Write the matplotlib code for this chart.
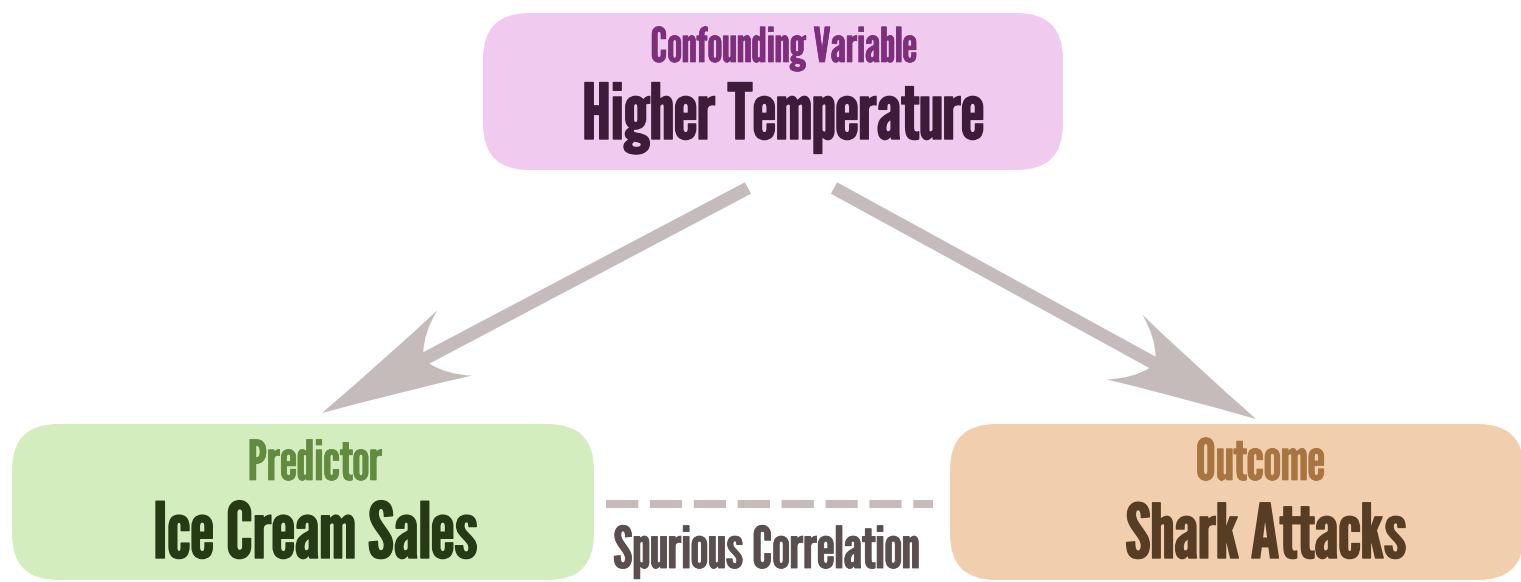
import numpy as np
import matplotlib
matplotlib.use('Agg')
from matplotlib import pyplot as plt
from matplotlib import patheffects as pe
from matplotlib.patches import FancyBboxPatch, PathPatch
from matplotlib.path import Path

# boxes: left, top, width, height (pixels)
box_xy = [(483, 13), (12, 424), (950, 424)]
box_size = [(580, 157), (582, 156), (574, 156)]
box_colors = ['#f1cbef', '#d3edbf', '#f0ceae']

# small label / big label of each box
small_labels = ['Confounding Variable', 'Predictor', 'Outcome']
small_colors = ['#7d2f7b', '#628b40', '#a87541']
big_labels = ['Higher Temperature', 'Ice Cream Sales', 'Shark Attacks']
big_colors = ['#3e1b38', '#263a16', '#573d24']

# text centre x, baseline y and width
small_x = [784, 315, 1260]
small_y = [62, 480, 480]
small_w = [267, 135, 130]
big_x = [783, 315, 1266]
big_y = [139, 558, 558]
big_w = [403, 326, 282]

# arrows from confounder to the two boxes
arrow_start = [(748, 188), (834, 188)]
arrow_tip = [(322, 413), (1256, 419)]
arrow_color = '#c5bbbb'

# spurious link
dash_x = [606, 933]
dash_y = 504
spur_label = 'Spurious Correlation'
spur_color = '#5b4e4e'

FONT = ['League Gothic', 'DejaVu Sans']

fig = plt.figure(figsize=(15.21, 5.82), dpi=100)
ax = fig.add_axes([0, 0, 1, 1])
ax.set_xlim(0, 1521)
ax.set_ylim(582, 0)
ax.axis('off')

for (x, y), (w, h), c in zip(box_xy, box_size, box_colors):
    ax.add_patch(FancyBboxPatch((x, y), w, h, boxstyle='round,pad=0,rounding_size=46',
                                fc=c, ec='none'))

fig.canvas.draw()
renderer = fig.canvas.get_renderer()


def fit_text(s, x, y, width, color, stroke):
    # light stroke to make the glyphs a little heavier
    t = ax.text(x, y, s, ha='center', va='baseline', fontsize=40, color=color, family=FONT)
    w = t.get_window_extent(renderer).width
    t.set_fontsize(40 * (width - stroke * 100 / 72) / w)
    t.set_path_effects([pe.withStroke(linewidth=stroke, foreground=color)])
    return t


for i in range(3):
    fit_text(small_labels[i], small_x[i], small_y[i], small_w[i], small_colors[i], 0.5)
    fit_text(big_labels[i], big_x[i], big_y[i], big_w[i], big_colors[i], 1.0)

fit_text(spur_label, 767, 568, 307, spur_color, 0.6)

# dashed line
ax.plot(dash_x, [dash_y, dash_y], color=arrow_color, lw=5.8, dashes=(4.0, 1.45),
        solid_capstyle='butt', dash_capstyle='butt')

# arrows: one outline, (distance back from tip, offset across)
hw = 6.5
for s, t in zip(arrow_start, arrow_tip):
    s = np.array(s, float)
    t = np.array(t, float)
    L = np.linalg.norm(s - t)
    b = (s - t) / L
    n = np.array([-b[1], b[0]])
    outline = [(0, 0), (88, 20), (150, 37), (128, 24), (118, hw), (L, hw), (L, -hw),
               (118, -hw), (128, -24), (150, -37), (88, -20), (0, 0), (0, 0)]
    codes = [Path.MOVETO, Path.CURVE3, Path.CURVE3, Path.CURVE3, Path.CURVE3,
             Path.LINETO, Path.LINETO, Path.LINETO, Path.CURVE3, Path.CURVE3,
             Path.CURVE3, Path.CURVE3, Path.CLOSEPOLY]
    pts = [t + a * b + p * n for a, p in outline]
    ax.add_patch(PathPatch(Path(pts, codes), fc=arrow_color, ec='none'))

fig.savefig('out.png', dpi=100)
